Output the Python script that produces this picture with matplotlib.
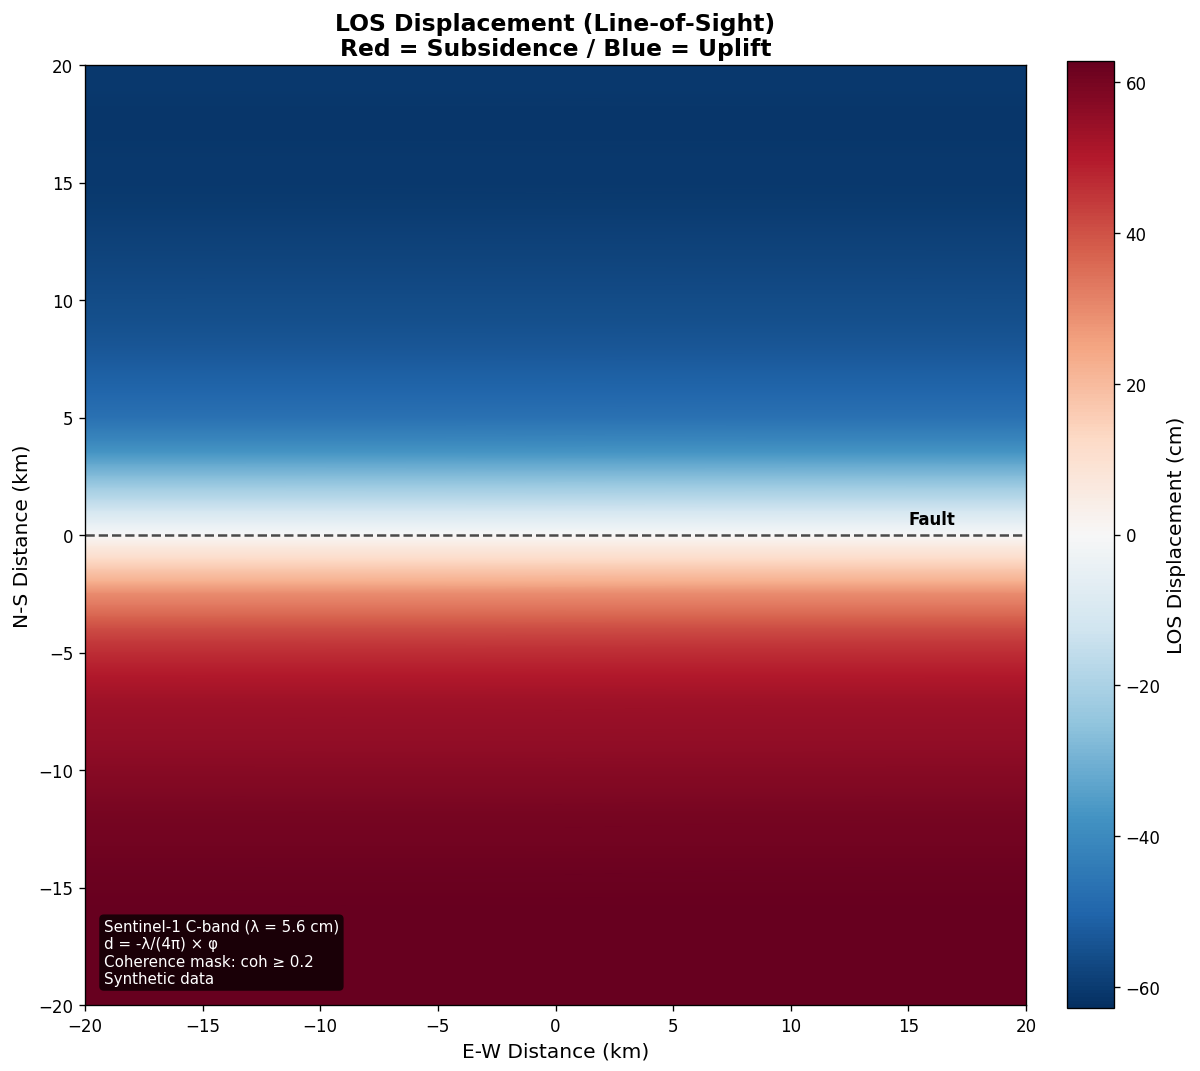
import numpy as np
import matplotlib
matplotlib.use("Agg")
import matplotlib.pyplot as plt

# LOS displacement profile (N-S distance, km -> cm)
ns_km = [20, 19, 18, 17, 16, 15, 14, 13, 12, 11, 10, 9, 8, 7, 6, 5, 4.5, 4, 3.5, 3, 2.5, 2, 1.5, 1, 0.5, 0,
         -0.5, -1, -1.5, -2, -2.5, -3, -3.5, -4, -4.5, -5, -5.5, -6, -7, -8, -9, -10, -11, -12, -13, -14, -15, -16, -18, -20]
los_cm = [-60.5, -60.5, -61, -61, -60.5, -60.5, -60, -59, -58, -57, -56, -55, -53.5, -52, -50, -47, -44, -41, -37, -32, -27, -22, -17, -11, -5.5, 0,
          6, 11.5, 17.5, 23, 29.5, 33, 37, 41, 44, 46.5, 48.5, 50.5, 53, 54.5, 55.5, 57, 58.5, 60, 60.5, 61.5, 62, 62.5, 62.5, 62.5]
ew_km = [-20, 20]
cbar_ticks = [-60, -40, -20, 0, 20, 40, 60]
vlim = 62.8

fig = plt.figure(figsize=(10, 8.9333), dpi=120)
W, H = 1200, 1072
ax = fig.add_axes([85/W, 1-1006/H, (1026-85)/W, (1006-66)/H])
cax = fig.add_axes([1067/W, 1-1009/H, (1114-1067)/W, (1009-62)/H])

Z = np.column_stack([los_cm, los_cm])
mesh = ax.pcolormesh(ew_km, ns_km, Z, cmap="RdBu_r", vmin=-vlim, vmax=vlim, shading="gouraud", rasterized=True)
ax.set_xlim(-20, 20)
ax.set_ylim(-20, 20)
ax.axhline(0, color="k", ls="--", lw=1.5, alpha=0.7)
ax.text(15, 0.47, "Fault", fontsize=10, fontweight="bold", color="k")
ax.text(-19.2, -19.2,
        "Sentinel-1 C-band (λ = 5.6 cm)\nd = -λ/(4π) × φ\nCoherence mask: coh ≥ 0.2\nSynthetic data",
        fontsize=9.1, color="white", va="bottom", ha="left", linespacing=1.2,
        bbox=dict(boxstyle="round", facecolor="black", alpha=0.75, edgecolor="none"))
ax.set_xlabel("E-W Distance (km)", fontsize=12.1)
ax.set_ylabel("N-S Distance (km)", fontsize=12.1)
ax.set_title("LOS Displacement (Line-of-Sight)\nRed = Subsidence / Blue = Uplift", fontsize=14.1, fontweight="bold", linespacing=1.12)

cb = fig.colorbar(mesh, cax=cax, ticks=cbar_ticks)
cb.set_label("LOS Displacement (cm)", fontsize=12.1)
fig.savefig("out.png", dpi=120)
